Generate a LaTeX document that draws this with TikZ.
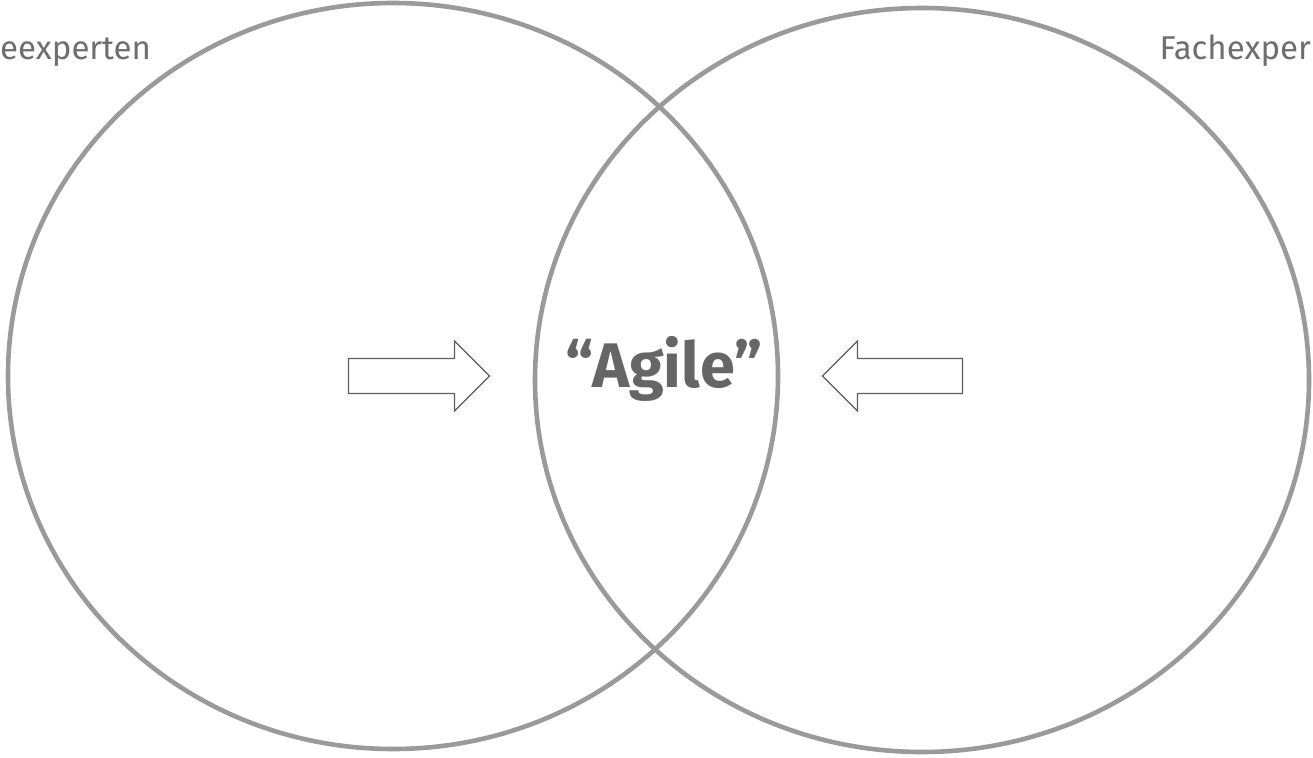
\documentclass[tikz,border=0pt]{standalone}
\usepackage{fontspec}
\setmainfont{Fira Sans}
\definecolor{ringgray}{HTML}{9A9A9A}
\definecolor{textgray}{HTML}{666666}
\definecolor{labelgray}{HTML}{6E6E6E}
\definecolor{arrowgray}{HTML}{5E5E5E}
\tikzset{
  ring/.style={draw=ringgray, line width=4.6pt},
  label/.style={text=labelgray, font=\fontsize{33}{38}\selectfont, inner sep=0pt},
  center/.style={text=textgray, font=\fontsize{63}{72}\selectfont\bfseries, inner sep=0pt},
  blockarrow/.style={draw=arrowgray, line width=1.3pt, fill=white, line join=miter}
}
\begin{document}
\begin{tikzpicture}[x=1pt,y=-1pt]
\useasboundingbox (0,0) rectangle (1313,757);
\clip (0,0) rectangle (1313,757);
\fill[white] (0,0) rectangle (1313,757);
\draw[ring] (393,376) ellipse [x radius=385, y radius=373];
\draw[ring] (922,380) ellipse [x radius=387, y radius=372];
\node[label, anchor=base west] (lefttext) at (0,60) {eexperten};
\node[label, anchor=base east] (righttext) at (1311,60) {Fachexper};
\node[center, anchor=base] (agile) at (664,387) {“Agile”};
\draw[blockarrow] (348.5,358.5) -- (454.5,358.5) -- (454.5,341) -- (489.5,376) -- (454.5,411) -- (454.5,393.5) -- (348.5,393.5) -- cycle;
\draw[blockarrow] (962.5,358.5) -- (857.5,358.5) -- (857.5,341) -- (822.5,376) -- (857.5,411) -- (857.5,393.5) -- (962.5,393.5) -- cycle;
\end{tikzpicture}
\end{document}
